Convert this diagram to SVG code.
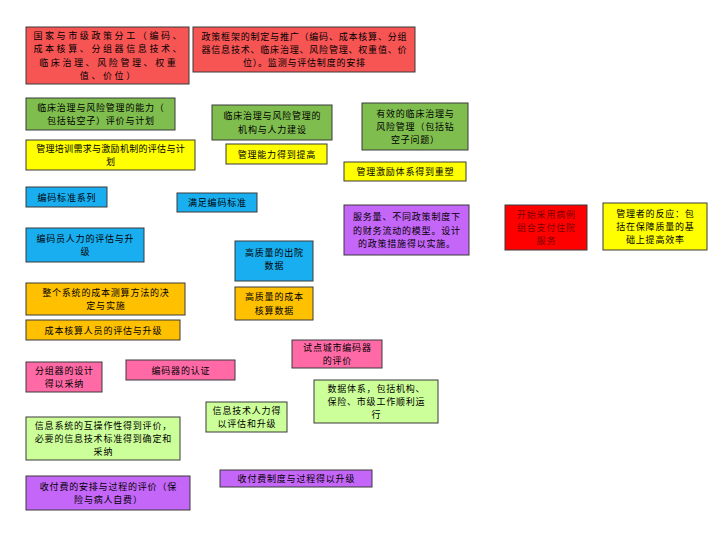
<svg xmlns="http://www.w3.org/2000/svg" width="720" height="540" viewBox="0 0 720 540">
<style>
rect{stroke:#3a3a3a;stroke-width:1}
.red{fill:#f75454}.grn{fill:#7fbd4f}.yel{fill:#ffff00}.blu{fill:#18aef0}.pur{fill:#c466f7}.brd{fill:#ff0000}.org{fill:#ffc000}.pnk{fill:#ff6aa6}.lgr{fill:#ccff99}
text{font-family:"Noto Sans CJK SC","Noto Sans",sans-serif;font-size:9px;letter-spacing:0.8px;fill:#000;text-anchor:middle;dominant-baseline:central}
.wide text{letter-spacing:2.6px}
.tight text{letter-spacing:0.3px}
.dk text{fill:#7a0000}
</style>
<g id="nA" class="wide"><rect class="red" x="26" y="27" width="163" height="57"/><text x="108.8" y="35.7">国家与市级政策分工（编码、</text><text x="108.8" y="48.9">成本核算、分组器信息技术、</text><text x="108.8" y="62.1">临床治理、风险管理、权重</text><text x="108.8" y="75.3">值、价位）</text></g>
<g id="nB"><rect class="red" x="193" y="27" width="222" height="45"/><text x="304.4" y="36.3">政策框架的制定与推广（编码、成本核算、分组</text><text x="304.4" y="49.5">器信息技术、临床治理、风险管理、权重值、价</text><text x="304.4" y="62.7">位）。监测与评估制度的安排</text></g>
<g id="nC"><rect class="grn" x="26" y="98" width="149" height="32"/><text x="100.9" y="107.4">临床治理与风险管理的能力（</text><text x="100.9" y="120.6">包括钻空子）评价与计划</text></g>
<g id="nD" class="tight"><rect class="yel" x="26" y="140" width="169" height="30"/><text x="110.6" y="148.4">管理培训需求与激励机制的评估与计</text><text x="110.6" y="161.6">划</text></g>
<g id="nE"><rect class="grn" x="212" y="105" width="120" height="35"/><text x="272.4" y="115.9">临床治理与风险管理的</text><text x="272.4" y="129.1">机构与人力建设</text></g>
<g id="nF"><rect class="yel" x="226" y="144" width="101" height="20"/><text x="276.9" y="154">管理能力得到提高</text></g>
<g id="nG"><rect class="grn" x="362" y="103" width="106" height="47"/><text x="415.4" y="113.3">有效的临床治理与</text><text x="415.4" y="126.5">风险管理（包括钻</text><text x="415.4" y="139.7">空子问题）</text></g>
<g id="nH"><rect class="yel" x="344" y="162" width="122" height="19"/><text x="405.4" y="171.5">管理激励体系得到重塑</text></g>
<g id="nI"><rect class="blu" x="26" y="187" width="81" height="20"/><text x="66.9" y="197">编码标准系列</text></g>
<g id="nJ"><rect class="blu" x="177" y="193" width="80" height="19"/><text x="217.4" y="202.5">满足编码标准</text></g>
<g id="nK"><rect class="blu" x="26" y="228" width="118" height="34"/><text x="85.4" y="238.4">编码员人力的评估与升</text><text x="85.4" y="251.6">级</text></g>
<g id="nL"><rect class="blu" x="235" y="241" width="78" height="40"/><text x="274.4" y="252">高质量的出院</text><text x="274.4" y="265.2">数据</text></g>
<g id="nM"><rect class="pur" x="344" y="205" width="125" height="50"/><text x="406.9" y="216.8">服务量、不同政策制度下</text><text x="406.9" y="230">的财务流动的模型。设计</text><text x="406.9" y="243.2">的政策措施得以实施。</text></g>
<g id="nN" class="dk"><rect class="brd" x="505" y="205" width="82" height="45"/><text x="546.4" y="214.3">开始采用病例</text><text x="546.4" y="227.5">组合支付住院</text><text x="546.4" y="240.7">服务</text></g>
<g id="nO"><rect class="yel" x="603" y="203" width="104" height="47"/><text x="655.4" y="213.3">管理者的反应：包</text><text x="655.4" y="226.5">括在保障质量的基</text><text x="655.4" y="239.7">础上提高效率</text></g>
<g id="nP"><rect class="org" x="26" y="283" width="159" height="32"/><text x="105.9" y="292.4">整个系统的成本测算方法的决</text><text x="105.9" y="305.6">定与实施</text></g>
<g id="nQ"><rect class="org" x="235" y="287" width="78" height="33"/><text x="274.4" y="296.9">高质量的成本</text><text x="274.4" y="310.1">核算数据</text></g>
<g id="nR"><rect class="org" x="26" y="320" width="154" height="20"/><text x="103.4" y="330">成本核算人员的评估与升级</text></g>
<g id="nS"><rect class="pnk" x="292" y="340" width="90" height="28"/><text x="337.4" y="347.4">试点城市编码器</text><text x="337.4" y="360.6">的评价</text></g>
<g id="nT"><rect class="pnk" x="26" y="362" width="76" height="30"/><text x="64.4" y="370.4">分组器的设计</text><text x="64.4" y="383.6">得以采纳</text></g>
<g id="nU"><rect class="pnk" x="126" y="360" width="109" height="20"/><text x="180.9" y="370">编码器的认证</text></g>
<g id="nV"><rect class="lgr" x="314" y="380" width="124" height="43"/><text x="376.4" y="388.3">数据体系，包括机构、</text><text x="376.4" y="401.5">保险、市级工作顺利运</text><text x="376.4" y="414.7">行</text></g>
<g id="nW"><rect class="lgr" x="206" y="402" width="81" height="30"/><text x="246.9" y="410.4">信息技术人力得</text><text x="246.9" y="423.6">以评估和升级</text></g>
<g id="nX"><rect class="lgr" x="26" y="417" width="154" height="43"/><text x="103.4" y="425.3">信息系统的互操作性得到评价，</text><text x="103.4" y="438.5">必要的信息技术标准得到确定和</text><text x="103.4" y="451.7">采纳</text></g>
<g id="nY"><rect class="pur" x="26" y="476" width="164" height="34"/><text x="108.4" y="486.4">收付费的安排与过程的评价（保</text><text x="108.4" y="499.6">险与病人自费）</text></g>
<g id="nZ"><rect class="pur" x="220" y="470" width="152" height="17"/><text x="296.4" y="478.5">收付费制度与过程得以升级</text></g>
<g id="connectors"></g>
</svg>
